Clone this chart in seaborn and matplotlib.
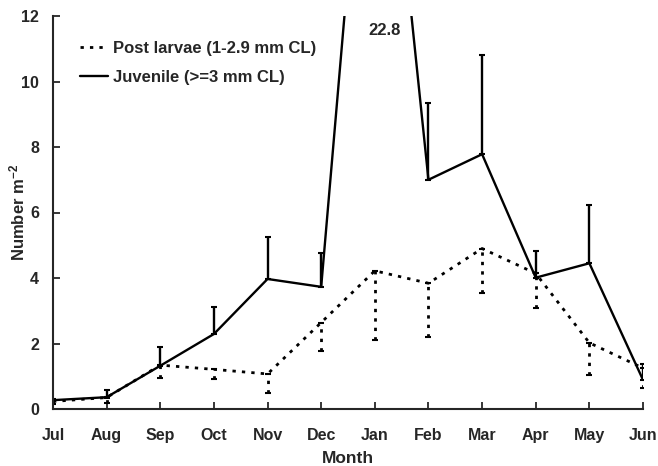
import matplotlib
matplotlib.use("Agg")
import matplotlib.pyplot as plt
import seaborn as sns
import pandas as pd
import numpy as np
from matplotlib.lines import Line2D

months = ["Jul", "Aug", "Sep", "Oct", "Nov", "Dec", "Jan", "Feb", "Mar", "Apr", "May", "Jun"]
post_larvae = [0.23, 0.35, 1.34, 1.21, 1.07, 2.64, 4.22, 3.84, 4.90, 4.14, 2.02, 1.25]
post_larvae_lower = [0.15, 0.18, 0.96, 0.92, 0.50, 1.78, 2.10, 2.21, 3.55, 3.07, 1.04, 0.65]
juvenile = [0.27, 0.36, 1.32, 2.29, 3.97, 3.73, 22.8, 7.00, 7.78, 4.01, 4.45, 0.89]
juvenile_upper = [0.32, 0.58, 1.88, 3.12, 5.24, 4.77, 22.8, 9.34, 10.81, 4.81, 6.23, 1.37]

lab_pl = "Post larvae (1-2.9 mm CL)"
lab_juv = "Juvenile (>=3 mm CL)"

sns.set_style("ticks")
plt.rcParams['font.family'] = ['Liberation Sans', 'DejaVu Sans']
plt.rcParams['font.weight'] = 'bold'
plt.rcParams['mathtext.fontset'] = 'custom'
plt.rcParams['mathtext.rm'] = 'Liberation Sans:bold'
plt.rcParams['mathtext.bf'] = 'Liberation Sans:bold'
plt.rcParams['mathtext.it'] = 'Liberation Sans:bold'
plt.rcParams['mathtext.default'] = 'bf'

idx = np.arange(len(months))
df = pd.DataFrame({
    "x": np.concatenate([idx, idx]),
    "y": post_larvae + juvenile,
    "series": [lab_pl] * len(months) + [lab_juv] * len(months),
})

fig = plt.figure(figsize=(6.58, 4.66), dpi=100)
ax = fig.add_axes([53 / 658, 57 / 466, 590 / 658, 393 / 466])

sns.lineplot(data=df, x="x", y="y", hue="series", style="series",
             palette={lab_pl: "black", lab_juv: "black"},
             dashes={lab_pl: (1.2, 2.2), lab_juv: ""},
             linewidth=1.7, ax=ax, legend=False, clip_on=True)
for ln in ax.lines:
    if ln.get_linestyle() not in ("-", "solid"):
        ln.set_linewidth(2.0)

pl = np.array(post_larvae)
jv = np.array(juvenile)
ju = np.array(juvenile_upper)
mask = np.array([m != "Jan" for m in months])
ax.errorbar(idx[mask], jv[mask], yerr=[np.zeros(mask.sum()), (ju - jv)[mask]],
            fmt="none", ecolor="black", elinewidth=1.7, capsize=2.5, capthick=1.5)
pll = np.array(post_larvae_lower)
eb2 = ax.errorbar(idx, pl, yerr=[pl - pll, np.zeros(len(months))],
                  fmt="none", ecolor="black", elinewidth=2.0, capsize=2.5, capthick=1.5)
for lc in eb2[2]:
    lc.set_linestyle((0, (1.2, 2.2)))

ax.text(6.19, 11.57, "22.8", ha="center", va="center", fontsize=12, fontweight="bold")

ax.set_xlim(0, 11)
ax.set_ylim(0, 12)
ax.set_xticks(idx)
ax.set_xticklabels(months)
ax.set_yticks([0, 2, 4, 6, 8, 10, 12])
ax.tick_params(direction="in", length=5, width=1.3, labelsize=11.5)
ax.tick_params(axis="y", pad=10)
ax.tick_params(axis="x", pad=14)
for t in ax.get_xticklabels() + ax.get_yticklabels():
    t.set_fontweight("bold")
for s in ["top", "right"]:
    ax.spines[s].set_visible(False)
for s in ["left", "bottom"]:
    ax.spines[s].set_linewidth(1.5)

ax.set_xlabel("Month", fontsize=12.5, fontweight="bold", va="center")
ax.xaxis.set_label_coords(0.5, -0.127)
ax.set_ylabel("Number m$^{-2}$", fontsize=12, fontweight="bold")
ax.yaxis.set_label_coords(-0.044, 0.5)

handles = [Line2D([], [], color="black", lw=2.0, linestyle=(0, (1.2, 2.2))),
           Line2D([], [], color="black", lw=1.7, linestyle="-")]
ax.legend(handles, [lab_pl, lab_juv], loc="upper left", bbox_to_anchor=(0.02, 0.975),
          frameon=False, handlelength=1.7, handletextpad=0.3,
          labelspacing=0.85, prop={"weight": "bold", "size": 12})

fig.savefig("out.png", dpi=100)
